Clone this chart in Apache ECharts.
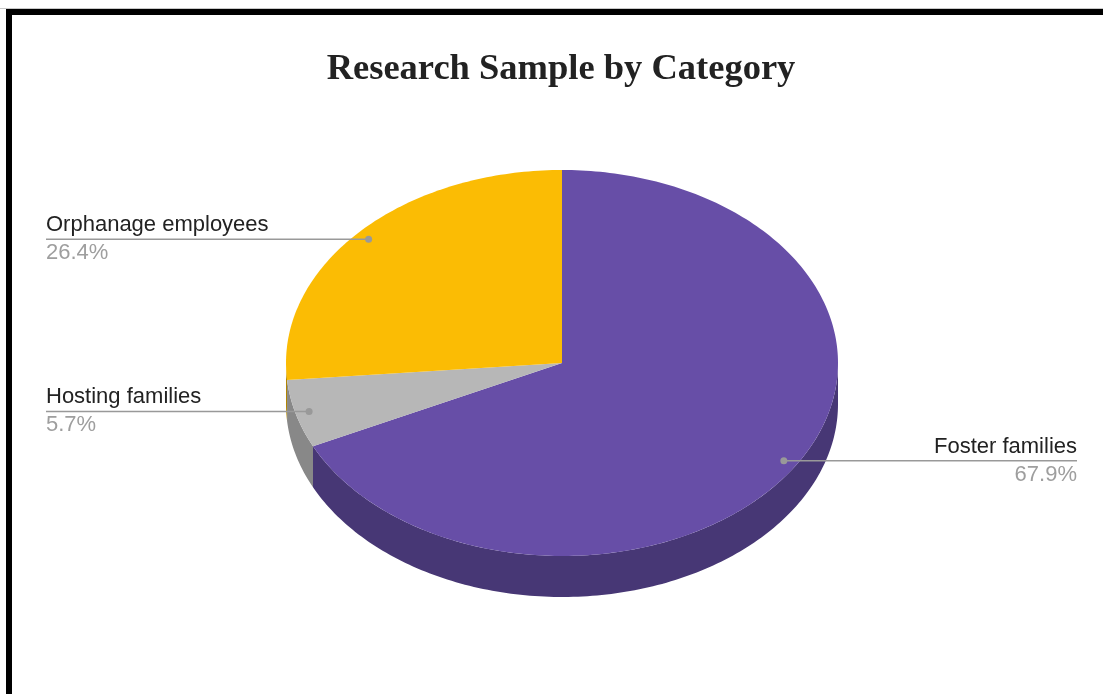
<!DOCTYPE html>
<html><head><meta charset="utf-8">
<script src="https://cdn.jsdelivr.net/npm/echarts/dist/echarts.min.js"></script>
<style>
html,body{margin:0;padding:0;background:#fff;width:1103px;height:694px;overflow:hidden}
#chart{position:absolute;left:0;top:0;width:1103px;height:694px}
#hair{position:absolute;left:0;top:8px;width:1103px;height:1px;background:#c8c8c8}
#frame{position:absolute;left:6px;top:9px;width:1200px;height:800px;border-top:6px solid #000;border-left:6px solid #000;pointer-events:none}
</style></head><body>
<div id="chart"></div><div id="hair"></div><div id="frame"></div>
<script>
// ---- data ----
const titleText = 'Research Sample by Category';
const categories = ['Foster families', 'Hosting families', 'Orphanage employees'];
const values = [67.9, 5.7, 26.4];

// ---- styles / geometry ----
const topColors = ['#674ea7', '#b7b7b7', '#fbbc04'];
const sideColors = ['#473775', '#888888', '#b08504'];
const CX = 562, CY = 363, RX = 276, RY = 193, DEPTH = 41;
const LEFT_X = 46, RIGHT_X = 1077;
const labelFont = '22px "Liberation Sans", Arial, sans-serif';

const total = values.reduce((a, b) => a + b, 0);
const starts = [];
(function () { let acc = 0; values.forEach(v => { starts.push(acc / total * 360); acc += v; }); })();

function pt(deg, f, dy) {
  const r = deg * Math.PI / 180;
  return [CX + RX * f * Math.sin(r), CY - RY * f * Math.cos(r) + (dy || 0)];
}

function renderItem(params, api) {
  const i = params.dataIndex;
  const v = api.value(0);
  const a0 = starts[i], a1 = a0 + v / total * 360;
  const children = [];
  const s0 = Math.max(a0, 90), s1 = Math.min(a1, 270);
  if (s1 > s0) {
    const n = Math.max(2, Math.ceil(s1 - s0));
    const pts = [];
    for (let k = 0; k <= n; k++) pts.push(pt(s0 + (s1 - s0) * k / n, 1, 0));
    for (let k = n; k >= 0; k--) pts.push(pt(s0 + (s1 - s0) * k / n, 1, DEPTH));
    children.push({ type: 'polygon', shape: { points: pts }, style: { fill: sideColors[i] }, z2: 1 });
  }
  const n2 = Math.max(2, Math.ceil(a1 - a0));
  const tp = [[CX, CY]];
  for (let k = 0; k <= n2; k++) tp.push(pt(a0 + (a1 - a0) * k / n2, 1, 0));
  children.push({ type: 'polygon', shape: { points: tp }, style: { fill: topColors[i] }, z2: 5 });

  const mid = (a0 + a1) / 2;
  const d = pt(mid, 0.95, 0);
  const right = Math.sin(mid * Math.PI / 180) > 0;
  const lx = right ? RIGHT_X : LEFT_X;
  const align = right ? 'right' : 'left';
  children.push({ type: 'line', shape: { x1: d[0], y1: d[1], x2: lx, y2: d[1] }, style: { stroke: '#999999', lineWidth: 1.5 }, z2: 20 });
  children.push({ type: 'circle', shape: { cx: d[0], cy: d[1], r: 3.5 }, style: { fill: '#999999' }, z2: 21 });
  children.push({ type: 'text', x: lx, y: d[1] - 14, style: { text: categories[i], fill: '#222222', font: labelFont, align: align, verticalAlign: 'middle' }, z2: 22 });
  children.push({ type: 'text', x: lx, y: d[1] + 14, style: { text: (v / total * 100).toFixed(1) + '%', fill: '#9e9e9e', font: labelFont, align: align, verticalAlign: 'middle' }, z2: 22 });
  return { type: 'group', children: children };
}

const chart = echarts.init(document.getElementById('chart'), null, { renderer: 'canvas' });
chart.setOption({
  backgroundColor: '#ffffff',
  animation: false,
  graphic: [{
    type: 'text', x: 561, y: 70, z: 10,
    style: { text: titleText, fill: '#222222', font: 'bold 36.5px "Liberation Serif", "Times New Roman", serif', align: 'center', verticalAlign: 'middle' }
  }],
  series: [{
    type: 'custom',
    coordinateSystem: 'none',
    renderItem: renderItem,
    data: values.map((v, i) => ({ name: categories[i], value: [v] }))
  }]
});
</script>
</body></html>
